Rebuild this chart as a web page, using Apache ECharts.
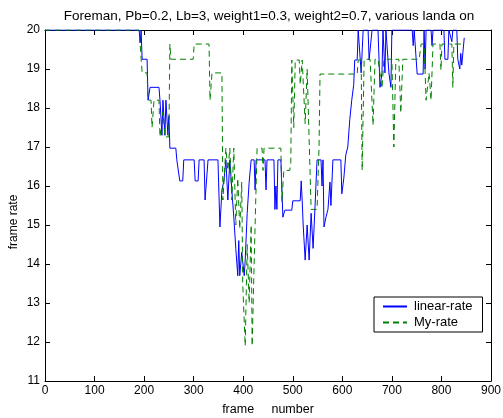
<!DOCTYPE html>
<html>
<head>
<meta charset="utf-8">
<script src="https://cdn.jsdelivr.net/npm/echarts@6/dist/echarts.min.js"></script>
<style>
  html, body { margin: 0; padding: 0; background: #fff; }
  #main { width: 503px; height: 418px; }
</style>
</head>
<body>
<div id="main"></div>
<script>
// linear-rate (blue) : frame numbers and frame rates
var linearFrames = [0, 190, 192, 194, 196, 206, 208, 212, 230, 232, 236, 238, 242, 244, 248, 250, 252, 264, 266, 270,
  272, 278, 280, 301, 303, 309, 311, 321, 323, 327, 329, 349, 353, 357, 361, 365, 369, 373, 377, 381,
  385, 389, 391, 393, 397, 402, 404, 408, 412, 416, 422, 424, 426, 444, 446, 448, 462, 464, 466, 468,
  470, 476, 478, 480, 484, 498, 500, 515, 517, 519, 521, 525, 529, 533, 537, 541, 545, 549, 557, 559,
  561, 563, 567, 571, 575, 577, 579, 581, 597, 599, 603, 607, 611, 615, 619, 623, 625, 630, 632, 636,
  638, 642, 652, 654, 658, 660, 672, 676, 680, 682, 686, 688, 694, 698, 700, 741, 743, 745, 749, 751,
  763, 765, 767, 769, 779, 781, 783, 805, 807, 813, 815, 821, 823, 831, 833, 837, 839, 841, 846];
var linearRates = [20, 20, 19.67, 20, 19.25, 19.25, 18.2, 18.53, 18.53, 18.2, 17.3, 18.2, 17.3, 18.2, 17.3, 17.8, 16.97, 16.97, 16.67, 16.67,
  16.13, 16.13, 16.67, 16.67, 16.13, 16.13, 16.67, 16.67, 15.64, 15.64, 16.67, 16.67, 14.95, 15.9, 16.13, 16.67, 15.64, 16.67, 15.9, 15.2,
  14.4, 13.7, 14.6, 13.7, 14.3, 13.7, 14.1, 15.3, 16.1, 16.67, 16.67, 15.9, 16.67, 16.67, 15.9, 16.67, 16.67, 15.4, 16.0, 15.4,
  16.67, 16.67, 16.67, 15.2, 15.38, 15.38, 15.62, 15.62, 16.13, 15.62, 15.0, 14.1, 15.0, 14.1, 15.3, 14.4, 15.5, 16.67, 16.67, 16.0,
  16.67, 14.95, 15.2, 15.4, 16.1, 15.5, 16.1, 16.67, 16.67, 15.8, 16.2, 16.8, 17.0, 17.7, 18.2, 18.6, 19.23, 19.23, 20, 20,
  18.9, 20, 20, 19.23, 19.23, 20, 20, 18.53, 18.9, 20, 18.9, 20, 18.9, 18.53, 20, 20, 19.6, 20, 20, 18.87,
  18.87, 20, 19.0, 20, 20, 19.6, 20, 20, 19.25, 19.25, 20, 19.7, 20, 20, 19.25, 19.0, 19.4, 19.1, 19.8];

// My-rate (green dashed)
var myFrames = [0, 190, 196, 206, 208, 214, 216, 220, 230, 232, 238, 242, 250, 252, 254, 299, 301, 331, 333, 337,
  357, 359, 365, 369, 373, 377, 381, 385, 389, 393, 397, 399, 404, 408, 412, 416, 418, 422, 426, 428,
  438, 440, 442, 476, 478, 482, 494, 496, 498, 500, 502, 505, 513, 515, 519, 523, 525, 529, 533, 537,
  549, 553, 555, 630, 632, 638, 640, 644, 656, 662, 666, 672, 680, 684, 700, 704, 708, 714, 718, 722,
  755, 759, 765, 769, 775, 779, 783, 797, 799, 801, 821, 823, 825, 841];
var myRates = [20, 20, 18.9, 18.9, 18.2, 18.2, 17.5, 18.2, 18.2, 17.26, 17.9, 17.26, 17.26, 19.64, 19.25, 19.25, 19.64, 19.64, 18.2, 18.9,
  18.9, 15.64, 16.97, 16.4, 16.97, 15.64, 16.97, 15.0, 16.2, 14.9, 16.1, 13.5, 11.9, 14.5, 13.0, 15.0, 11.9, 14.0, 16.0, 16.97,
  16.97, 16.4, 16.97, 16.97, 15.6, 16.4, 16.4, 16.6, 19.23, 19.23, 17.5, 19.23, 19.23, 18.6, 19.23, 19.23, 17.6, 19.0, 17.2, 15.4,
  15.4, 17.0, 18.87, 18.87, 19.23, 19.23, 16.4, 19.25, 19.25, 17.56, 19.25, 19.25, 18.5, 19.25, 19.25, 17.0, 19.25, 19.25, 17.87, 19.25,
  19.25, 19.64, 19.64, 18.2, 18.9, 18.2, 19.64, 19.64, 18.97, 19.64, 19.64, 18.53, 19.64, 19.64];

var seriesNames = ['linear-rate', 'My-rate'];

function pairs(xs, ys) {
  return xs.map(function (x, i) { return [x, ys[i]]; });
}

var FONT = 'Liberation Sans';
var myChart = echarts.init(document.getElementById('main'));

var tickStyle = { show: true, inside: true, length: 5, lineStyle: { color: '#000' } };
var lineStyleAxis = { show: true, onZero: false, lineStyle: { color: '#000', width: 1 } };

var option = {
  animation: false,
  backgroundColor: '#fff',
  textStyle: { fontFamily: FONT },
  title: {
    text: 'Foreman, Pb=0.2, Lb=3, weight1=0.3, weight2=0.7, various landa on',
    left: 264,
    textAlign: 'center',
    top: 4,
    textStyle: { fontFamily: FONT, fontSize: 13.5, fontWeight: 'normal', color: '#000' }
  },
  graphic: [{
    type: 'text',
    x: 8, y: 222,
    rotation: Math.PI / 2,
    style: {
      text: 'frame rate', fontFamily: FONT, fontSize: 12, fill: '#000',
      align: 'center', verticalAlign: 'top'
    }
  }],
  grid: { left: 45, right: 12, top: 30, bottom: 37, outerBoundsMode: 'none', containLabel: false },
  legend: {
    data: seriesNames,
    orient: 'vertical',
    left: 374,
    top: 297,
    padding: [3, 10, 3, 8],
    itemGap: 3,
    itemWidth: 24,
    itemHeight: 14,
    borderColor: '#000',
    borderWidth: 1,
    borderRadius: 0,
    backgroundColor: '#fff',
    itemStyle: { opacity: 0 },
    textStyle: { fontFamily: FONT, fontSize: 13, color: '#000', padding: [0, 0, 0, 2] }
  },
  xAxis: [{
    type: 'value', min: 0, max: 900, interval: 100,
    name: 'frame     number', nameLocation: 'middle', nameGap: 22,
    nameTextStyle: { fontFamily: FONT, fontSize: 12.5, color: '#000' },
    axisLine: lineStyleAxis, axisTick: tickStyle,
    axisLabel: { fontFamily: FONT, fontSize: 12, color: '#000', margin: 4 },
    splitLine: { show: false }
  }, {
    type: 'value', min: 0, max: 900, interval: 100, position: 'top',
    axisLine: lineStyleAxis, axisTick: tickStyle,
    axisLabel: { show: false }, splitLine: { show: false }
  }],
  yAxis: [{
    type: 'value', min: 11, max: 20, interval: 1,
    axisLine: lineStyleAxis, axisTick: tickStyle,
    axisLabel: { fontFamily: FONT, fontSize: 12, color: '#000', margin: 5 },
    splitLine: { show: false }
  }, {
    type: 'value', min: 11, max: 20, interval: 1, position: 'right',
    axisLine: lineStyleAxis, axisTick: tickStyle,
    axisLabel: { show: false }, splitLine: { show: false }
  }],
  series: [{
    name: seriesNames[0],
    type: 'line',
    data: pairs(linearFrames, linearRates),
    symbol: 'none',
    color: '#0000ff',
    lineStyle: { color: '#0000ff', width: 1 },
    z: 3
  }, {
    name: seriesNames[1],
    type: 'line',
    data: pairs(myFrames, myRates),
    symbol: 'none',
    color: '#008000',
    lineStyle: { color: '#008000', width: 1, type: [6, 4] },
    z: 4
  }]
};
myChart.setOption(option);
</script>
</body>
</html>
